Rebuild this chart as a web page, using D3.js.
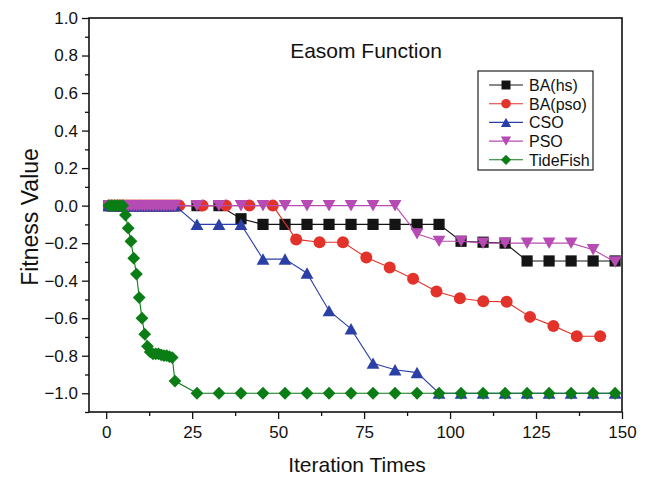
<!DOCTYPE html>
<html>
<head>
<meta charset="utf-8">
<script src="https://cdn.jsdelivr.net/npm/d3@7"></script>
<style>
  body { margin: 0; background: #fff; }
  text { font-family: "Liberation Sans", Arial, sans-serif; fill: #111; }
</style>
</head>
<body>
<div id="chart"></div>
<script>
// Easom Function - curve di convergenza (fitness vs iterazioni)

// iterazioni per BA(hs), CSO, PSO, TideFish
const iterA = [0.8, 1.6, 2.4, 3.2, 4.0, 4.8, 5.6, 6.4, 7.2, 8.0, 8.8, 9.6, 10.4, 11.2, 12.0,
    12.8, 13.6, 14.4, 15.2, 16.0, 16.8, 17.6, 18.4, 19.2, 20.0,
    26.4, 32.8, 39.2, 45.6, 52.0, 58.4, 64.8, 71.2, 77.6, 84.0, 90.4, 96.8,
    103.2, 109.6, 116.0, 122.4, 128.8, 135.2, 141.6, 148.0];
// iterazioni per BA(pso)
const iterB = [0.85, 1.7, 2.55, 3.4, 4.25, 5.1, 5.95, 6.8, 7.65, 8.5, 9.35, 10.2, 11.05, 11.9,
    12.75, 13.6, 14.45, 15.3, 16.15, 17.0, 17.85, 18.7, 19.55, 20.4, 21.25,
    28.05, 34.85, 41.65, 48.45, 55.25, 62.05, 68.85, 75.65, 82.45, 89.25, 96.05,
    102.85, 109.65, 116.45, 123.25, 130.05, 136.85, 143.65];

const baHs = [0, 0, 0, 0, 0, 0, 0, 0, 0, 0, 0, 0, 0, 0, 0, 0, 0, 0, 0, 0, 0, 0, 0, 0, 0,
    0, 0, -0.07, -0.1, -0.1, -0.1, -0.1, -0.1, -0.1, -0.1, -0.1, -0.1,
    -0.19, -0.195, -0.2, -0.295, -0.295, -0.295, -0.295, -0.295];
const baPso = [0, 0, 0, 0, 0, 0, 0, 0, 0, 0, 0, 0, 0, 0, 0, 0, 0, 0, 0, 0, 0, 0, 0, 0, 0,
    0, 0, 0, 0, -0.18, -0.195, -0.195, -0.277, -0.33, -0.39, -0.458,
    -0.494, -0.51, -0.513, -0.593, -0.641, -0.696, -0.696];
const cso = [0, 0, 0, 0, 0, 0, 0, 0, 0, 0, 0, 0, 0, 0, 0, 0, 0, 0, 0, 0, 0, 0, 0, 0, 0,
    -0.1, -0.1, -0.1, -0.285, -0.285, -0.36, -0.56, -0.657, -0.84, -0.875, -0.89, -1.0,
    -1.0, -1.0, -1.0, -1.0, -1.0, -1.0, -1.0, -1.0];
const pso = [0, 0, 0, 0, 0, 0, 0, 0, 0, 0, 0, 0, 0, 0, 0, 0, 0, 0, 0, 0, 0, 0, 0, 0, 0,
    0, 0, 0, 0, 0, 0, 0, 0, 0, 0, -0.15, -0.19,
    -0.19, -0.2, -0.2, -0.2, -0.2, -0.2, -0.235, -0.3];
const tideFish = [0, 0, 0, 0, 0, 0, -0.05, -0.12, -0.19, -0.28, -0.365, -0.49, -0.6, -0.685, -0.75,
    -0.78, -0.79, -0.79, -0.79, -0.795, -0.8, -0.8, -0.805, -0.81, -0.935,
    -1.0, -1.0, -1.0, -1.0, -1.0, -1.0, -1.0, -1.0, -1.0, -1.0, -1.0, -1.0,
    -1.0, -1.0, -1.0, -1.0, -1.0, -1.0, -1.0, -1.0];

const seriesNames = ['BA(hs)', 'BA(pso)', 'CSO', 'PSO', 'TideFish'];
const xTicks = [0, 25, 50, 75, 100, 125, 150];
const yTicks = [-1.0, -0.8, -0.6, -0.4, -0.2, 0.0, 0.2, 0.4, 0.6, 0.8, 1.0];

const series = [
    { name: seriesNames[0], xs: iterA, ys: baHs, color: '#141414', shape: 'square' },
    { name: seriesNames[1], xs: iterB, ys: baPso, color: '#e2322a', shape: 'circle' },
    { name: seriesNames[2], xs: iterA, ys: cso, color: '#2b40a6', shape: 'up' },
    { name: seriesNames[3], xs: iterA, ys: pso, color: '#b64bb3', shape: 'down' },
    { name: seriesNames[4], xs: iterA, ys: tideFish, color: '#0b7d15', shape: 'diamond' }
];

const W = 649, H = 478;
const margin = { left: 89, right: 27, top: 18, bottom: 66 };
const width = W - margin.left - margin.right;
const height = H - margin.top - margin.bottom;

const svg = d3.select('#chart').append('svg')
    .attr('width', W)
    .attr('height', H);

const g = svg.append('g')
    .attr('transform', `translate(${margin.left},${margin.top})`);

const x = d3.scaleLinear().domain([-5, 150]).range([0, width]);
const y = d3.scaleLinear().domain([-1.1, 1.0]).range([height, 0]);

// marker (centrati sul bounding box)
function markerPath(shape) {
    switch (shape) {
        case 'square': return 'M-5.6,-5.6H5.6V5.6H-5.6Z';
        case 'circle': return 'M6,0A6,6 0 1,1 -6,0A6,6 0 1,1 6,0Z';
        case 'up': return 'M0,-5.8L6.4,5.6L-6.4,5.6Z';
        case 'down': return 'M0,5.8L6.4,-5.6L-6.4,-5.6Z';
        default: return 'M0,-6.4L6.4,0L0,6.4L-6.4,0Z';
    }
}

// assi: minor ticks
g.append('g')
    .attr('class', 'axis')
    .attr('transform', `translate(0,${height})`)
    .call(d3.axisBottom(x).tickValues(d3.range(12.5, 150, 25)).tickSize(4).tickFormat(''));
g.append('g')
    .attr('class', 'axis')
    .call(d3.axisLeft(y).tickValues(d3.range(-1.1, 1.0, 0.2)).tickSize(4).tickFormat(''));

// assi: major ticks
g.append('g')
    .attr('class', 'axis')
    .attr('transform', `translate(0,${height})`)
    .call(d3.axisBottom(x).tickValues(xTicks).tickSize(7).tickPadding(7).tickFormat(d3.format('d')));
g.append('g')
    .attr('class', 'axis')
    .call(d3.axisLeft(y).tickValues(yTicks).tickSize(7).tickPadding(4).tickFormat(d3.format('.1f')));

g.selectAll('.axis .domain').remove();
g.selectAll('.axis line').attr('stroke', '#111').attr('stroke-width', 1.3);
g.selectAll('.axis text').style('font-size', '17px').attr('fill', '#111');

// cornice
g.append('rect')
    .attr('width', width)
    .attr('height', height)
    .attr('fill', 'none')
    .attr('stroke', '#111')
    .attr('stroke-width', 1.6);

// linee e punti
const line = d3.line().x(d => x(d[0])).y(d => y(d[1]));

series.forEach(s => {
    const pts = s.xs.map((v, i) => [v, s.ys[i]]);
    g.append('path')
        .datum(pts)
        .attr('fill', 'none')
        .attr('stroke', s.color)
        .attr('stroke-width', 1.1)
        .attr('d', line);
    g.selectAll(null)
        .data(pts)
        .join('path')
        .attr('d', markerPath(s.shape))
        .attr('transform', d => `translate(${x(d[0])},${y(d[1])})`)
        .attr('fill', s.color);
});

// titolo
g.append('text')
    .attr('x', 366 - margin.left)
    .attr('y', 58 - margin.top)
    .attr('text-anchor', 'middle')
    .style('font-size', '21px')
    .text('Easom Function');

// etichette assi
svg.append('text')
    .attr('x', 357)
    .attr('y', 472)
    .attr('text-anchor', 'middle')
    .style('font-size', '21px')
    .text('Iteration Times');

svg.append('text')
    .attr('transform', 'rotate(-90)')
    .attr('x', -217)
    .attr('y', 38)
    .attr('text-anchor', 'middle')
    .style('font-size', '23px')
    .text('Fitness Value');

// legenda
const legend = svg.append('g')
    .attr('transform', 'translate(478,71)');

legend.append('rect')
    .attr('width', 115)
    .attr('height', 99)
    .attr('fill', '#fff')
    .attr('stroke', '#222')
    .attr('stroke-width', 1.2);

legend.selectAll('g')
    .data(series)
    .join('g')
    .attr('transform', (d, i) => `translate(0, ${14 + i * 18.7})`)
    .each(function(d) {
        const lg = d3.select(this);
        lg.append('line')
            .attr('x1', 11).attr('x2', 45)
            .attr('stroke', d.color)
            .attr('stroke-width', 1.1);
        lg.append('path')
            .attr('d', markerPath(d.shape))
            .attr('transform', 'translate(28,0) scale(0.8)')
            .attr('fill', d.color);
        lg.append('text')
            .attr('x', 51)
            .attr('y', 6)
            .style('font-size', '16px')
            .text(d.name);
    });
</script>
</body>
</html>
